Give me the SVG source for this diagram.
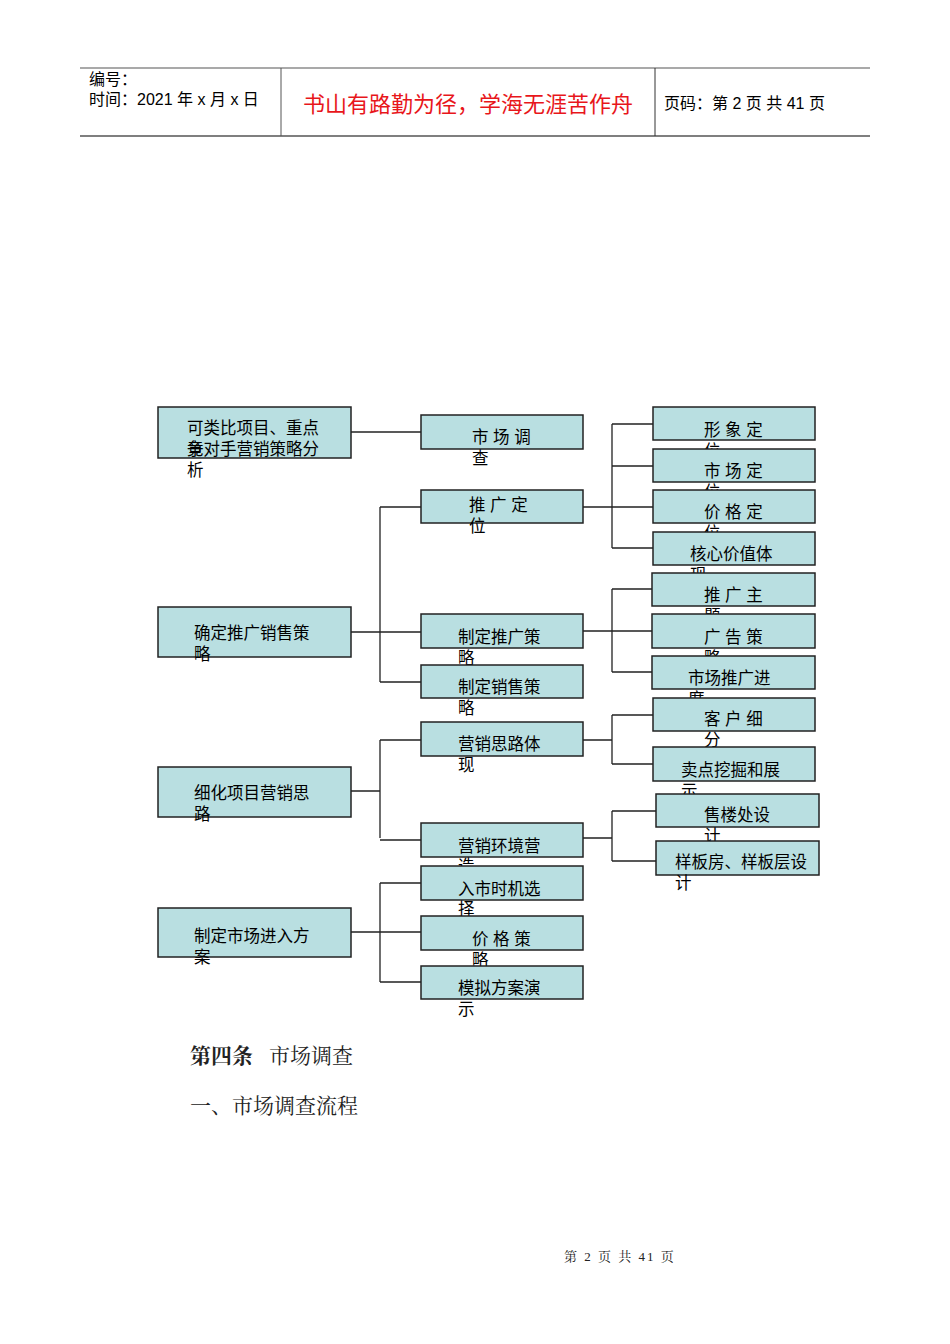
<svg xmlns="http://www.w3.org/2000/svg" width="950" height="1344" viewBox="0 0 950 1344">
<style>
.b{fill:#b9dfe1;stroke:#222;stroke-width:1.5}
.t{font-family:"Liberation Sans","Noto Sans CJK SC",sans-serif;font-size:16.5px;fill:#000}
.c{stroke:#222;stroke-width:1.3;fill:none}
.h{font-family:"Liberation Sans","Noto Sans CJK SC",sans-serif;font-size:16px;fill:#000}
.s{font-family:"Liberation Serif","Noto Serif CJK SC","Noto Sans CJK SC",serif;fill:#222}
</style>
<rect width="950" height="1344" fill="#fff"/>
<g id="header">
<line x1="80" y1="68" x2="870" y2="68" stroke="#555" stroke-width="1.2"/>
<line x1="80" y1="136" x2="870" y2="136" stroke="#555" stroke-width="1.5"/>
<line x1="281" y1="68" x2="281" y2="136" stroke="#555"/>
<line x1="655" y1="68" x2="655" y2="136" stroke="#333"/>
<text class="h" x="89" y="85">编号：</text>
<text class="h" x="89" y="105">时间：2021 年 x 月 x 日</text>
<text x="468" y="112" text-anchor="middle" font-family="Liberation Sans,Noto Sans CJK SC,sans-serif" font-size="22" fill="#e8161b">书山有路勤为径，学海无涯苦作舟</text>
<text class="h" x="664" y="109">页码：第 2 页  共 41 页</text>
</g>
<g id="connectors">
<path class="c" d="M351 432H421"/>
<path class="c" d="M351 632H421M380 507V682M380 507H421M380 682H421"/>
<path class="c" d="M583 507H653M612 424V548M612 424H653M612 466H653M612 548H653"/>
<path class="c" d="M583 631H652M612 589V672M612 589H652M612 672H652"/>
<path class="c" d="M351 791H380M380 740V838M380 740H421M380 840H421"/>
<path class="c" d="M583 740H612M612 715V764M612 715H653M612 764H653"/>
<path class="c" d="M583 838H612M612 811V861M612 811H656M612 861H656"/>
<path class="c" d="M351 932H421M380 883V982M380 883H421M380 982H421"/>
</g>
<g id="n1"><rect class="b" x="158" y="407" width="193" height="51"/><text class="t" x="187" y="434">可类比项目、重点</text><text class="t" x="187" y="455">竞<tspan dx="-16.5">争对手营销策略分</tspan></text><text class="t" x="187" y="476">析</text></g>
<g id="n2"><rect class="b" x="421" y="415" width="162" height="34"/><text class="t" x="472" y="443">市 场 调</text><text class="t" x="472" y="464">查</text></g>
<g id="n3"><rect class="b" x="653" y="407" width="162" height="33"/><text class="t" x="704" y="436">形 象 定</text><text class="t" x="704" y="457">位</text></g>
<g id="n4"><rect class="b" x="653" y="449" width="162" height="33"/><text class="t" x="704" y="477">市 场 定</text><text class="t" x="704" y="498">位</text></g>
<g id="n5"><rect class="b" x="421" y="490" width="162" height="33"/><text class="t" x="469" y="511">推 广 定</text><text class="t" x="469" y="532">位</text></g>
<g id="n6"><rect class="b" x="653" y="490" width="162" height="33"/><text class="t" x="704" y="518">价 格 定</text><text class="t" x="704" y="539">位</text></g>
<g id="n7"><rect class="b" x="653" y="532" width="162" height="33"/><text class="t" x="690" y="560">核心价值体</text><text class="t" x="690" y="581">现</text></g>
<g id="n8"><rect class="b" x="652" y="573" width="163" height="33"/><text class="t" x="704" y="601">推 广 主</text><text class="t" x="704" y="622">题</text></g>
<g id="n9"><rect class="b" x="158" y="607" width="193" height="50"/><text class="t" x="194" y="639">确定推广销售策</text><text class="t" x="194" y="660">略</text></g>
<g id="n10"><rect class="b" x="421" y="614" width="162" height="34"/><text class="t" x="458" y="643">制定推广策</text><text class="t" x="458" y="664">略</text></g>
<g id="n11"><rect class="b" x="652" y="614" width="163" height="34"/><text class="t" x="704" y="643">广 告 策</text><text class="t" x="704" y="664">略</text></g>
<g id="n12"><rect class="b" x="652" y="656" width="163" height="33"/><text class="t" x="688" y="684">市场推广进</text><text class="t" x="688" y="705">度</text></g>
<g id="n13"><rect class="b" x="421" y="665" width="162" height="33"/><text class="t" x="458" y="693">制定销售策</text><text class="t" x="458" y="714">略</text></g>
<g id="n14"><rect class="b" x="653" y="698" width="162" height="33"/><text class="t" x="704" y="725">客 户 细</text><text class="t" x="704" y="746">分</text></g>
<g id="n15"><rect class="b" x="421" y="722" width="162" height="34"/><text class="t" x="458" y="750">营销思路体</text><text class="t" x="458" y="771">现</text></g>
<g id="n16"><rect class="b" x="653" y="747" width="162" height="34"/><text class="t" x="681" y="776">卖点挖掘和展</text><text class="t" x="681" y="797">示</text></g>
<g id="n17"><rect class="b" x="158" y="767" width="193" height="50"/><text class="t" x="194" y="799">细化项目营销思</text><text class="t" x="194" y="820">路</text></g>
<g id="n18"><rect class="b" x="656" y="794" width="163" height="33"/><text class="t" x="704" y="821">售楼处设</text><text class="t" x="704" y="842">计</text></g>
<g id="n19"><rect class="b" x="421" y="823" width="162" height="34"/><text class="t" x="458" y="852">营销环境营</text><text class="t" x="458" y="872">造</text></g>
<g id="n20"><rect class="b" x="656" y="841" width="163" height="34"/><text class="t" x="675" y="868">样板房、样板层设</text><text class="t" x="675" y="889">计</text></g>
<g id="n21"><rect class="b" x="421" y="866" width="162" height="34"/><text class="t" x="458" y="895">入市时机选</text><text class="t" x="458" y="915">择</text></g>
<g id="n22"><rect class="b" x="158" y="908" width="193" height="49"/><text class="t" x="194" y="942">制定市场进入方</text><text class="t" x="194" y="963">案</text></g>
<g id="n23"><rect class="b" x="421" y="916" width="162" height="34"/><text class="t" x="472" y="945">价 格 策</text><text class="t" x="472" y="966">略</text></g>
<g id="n24"><rect class="b" x="421" y="966" width="162" height="33"/><text class="t" x="458" y="994">模拟方案演</text><text class="t" x="458" y="1015">示</text></g>
<g id="body">
<text class="s" x="190" y="1063" font-size="21" font-weight="bold" fill="#000">第四条</text>
<text class="s" x="269" y="1063" font-size="21">市场调查</text>
<text class="s" x="190" y="1113" font-size="21">一、市场调查流程</text>
<text class="s" x="620" y="1261" font-size="13" text-anchor="middle" letter-spacing="2">第 2 页 共 41 页</text>
</g>
</svg>
